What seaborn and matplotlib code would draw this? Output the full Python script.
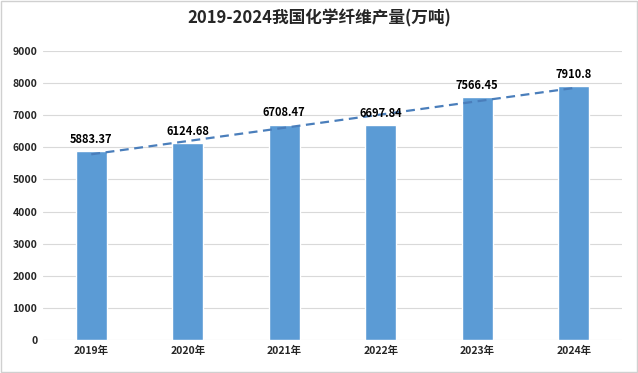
import matplotlib
matplotlib.use("Agg")
import matplotlib.pyplot as plt
import seaborn as sns
import numpy as np
import pandas as pd

years = ["2019年", "2020年", "2021年", "2022年", "2023年", "2024年"]
values = [5883.37, 6124.68, 6708.47, 6697.84, 7566.45, 7910.8]
value_labels = ["5883.37", "6124.68", "6708.47", "6697.84", "7566.45", "7910.8"]
yticks = [0, 1000, 2000, 3000, 4000, 5000, 6000, 7000, 8000, 9000]
title = "2019-2024我国化学纤维产量(万吨)"

sns.set_theme(style="white")
plt.rcParams['font.family'] = ['Noto Sans CJK SC', 'DejaVu Sans']

df = pd.DataFrame({"year": years, "value": values})

fig = plt.figure(figsize=(6.38, 3.73), dpi=100)
ax = fig.add_axes([43/638, 1 - 340/373, (622-43)/638, (340-51)/373])

sns.barplot(data=df, x="year", y="value", color="#5B9BD5", width=0.32,
            saturation=1, ax=ax, zorder=3)

# linear trendline
xs = np.arange(len(values))
coef = np.polyfit(xs, values, 1)
ax.plot(xs, np.polyval(coef, xs), linestyle=(0, (4, 2.5)), color="#4A7EBB",
        linewidth=1.6, zorder=4)

for i, (v, lab) in enumerate(zip(values, value_labels)):
    ax.text(i, v + 160, lab, ha="center", va="bottom", fontsize=8,
            fontweight="bold", color="#000000", zorder=5)

ax.set_ylim(0, 9000)
ax.set_xlim(-0.5, len(years) - 0.5)
ax.set_yticks(yticks)
ax.set_yticklabels([str(t) for t in yticks], fontsize=7.5, fontweight="bold")
ax.set_xticks(range(len(years)))
ax.set_xticklabels(years, fontsize=7.5, fontweight="bold")
ax.yaxis.grid(True, color="#D9D9D9", linewidth=0.8, zorder=0)
ax.set_axisbelow(True)
for s in ax.spines.values():
    s.set_visible(False)
ax.tick_params(axis="both", length=0, pad=4)
ax.set_xlabel("")
ax.set_ylabel("")

fig.text(0.5, 1 - 18/373, title, ha="center", va="center", fontsize=12,
         fontweight="bold")

fig.patches.append(plt.Rectangle((0.001, 0.002), 0.997, 0.995, transform=fig.transFigure,
                                 fill=False, edgecolor="#D0D0D0", linewidth=1))

fig.savefig("out.png", dpi=100)
